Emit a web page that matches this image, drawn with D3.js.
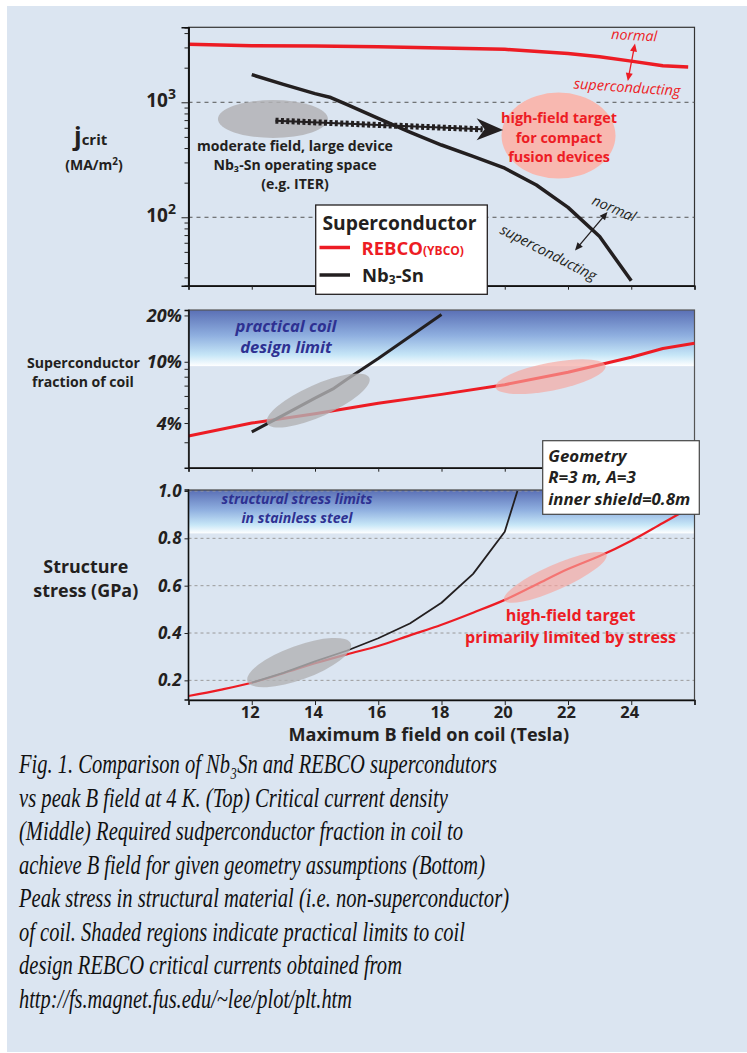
<!DOCTYPE html>
<html>
<head>
<meta charset="utf-8">
<script src="https://cdn.jsdelivr.net/npm/d3@7"></script>
<style>
  body { margin: 0; background: #fff; }
  svg text { font-family: "Open Sans", sans-serif; }
  svg text.cap { font-family: "Liberation Serif", "Times New Roman", serif; }
</style>
</head>
<body>
<svg id="chart" width="747" height="1053"></svg>
<script>
// ---- data ----
// top: critical current density (MA/m2) vs B (T)
var jcRebcoB = [10, 12, 14, 16, 18, 20, 22, 23, 24, 25, 25.8];
var jcRebco  = [3190, 3110, 3080, 3040, 2970, 2890, 2660, 2490, 2280, 2080, 2030];
var jcNbB    = [12, 13, 14, 14.5, 15, 16, 17, 18, 19, 20, 21, 22, 23, 24];
var jcNb     = [1740, 1430, 1190, 1100, 960, 725, 551, 425, 339, 267, 191, 122, 68, 28];

// middle: superconductor fraction of coil (%)
var fracRebcoB = [10, 12, 14, 16, 18, 20, 22, 24, 25, 26];
var fracRebco  = [3.29, 4.0, 4.6, 5.38, 6.14, 7.1, 8.55, 10.7, 12.2, 13.2];
var fracNbB    = [12, 13, 14, 14.6, 15, 16, 17, 18];
var fracNb     = [3.5, 4.5, 5.8, 6.72, 7.67, 10.5, 14.6, 20.3];

// bottom: structure stress (GPa)
var stressRebcoB = [10, 11, 12, 13, 14, 15, 16, 17, 18, 19, 20, 21, 22, 23, 24, 25, 26];
var stressRebco  = [0.134, 0.16, 0.19, 0.23, 0.272, 0.31, 0.345, 0.39, 0.435, 0.486, 0.54, 0.605, 0.67, 0.725, 0.79, 0.865, 0.94];
var stressNbB    = [12, 13, 14, 15, 16, 17, 18, 19, 20, 20.4];
var stressNb     = [0.19, 0.232, 0.28, 0.325, 0.378, 0.44, 0.528, 0.65, 0.828, 1.0];

var xTicks = [10, 12, 14, 16, 18, 20, 22, 24, 26];
var xLabels = [12, 14, 16, 18, 20, 22, 24];
var jcMinor = [30, 40, 50, 60, 70, 80, 90, 200, 300, 400, 500, 600, 700, 800, 900, 2000, 3000, 4000];
var jcMajor = [100, 1000];
var fracTicks = [3, 4, 5, 6, 7, 8, 9, 10, 20];
var fracLabels = [4, 10, 20];
var stressTicks = [0.2, 0.4, 0.6, 0.8, 1.0];

var captionLines = [
  "Fig. 1. Comparison of Nb\u2083Sn and REBCO supercondutors",
  "vs peak B field at 4 K. (Top) Critical current density",
  "(Middle) Required sudperconductor fraction in coil to",
  "achieve B field for given geometry assumptions (Bottom)",
  "Peak stress in structural material (i.e. non-superconductor)",
  "of coil. Shaded regions indicate practical limits to coil",
  "design REBCO critical currents obtained from",
  "http://fs.magnet.fus.edu/~lee/plot/plt.htm"
];
var captionWidths = [478, 429, 444, 466, 490, 446, 383, 333];

var RED = '#ed1c24', INK = '#231f20', NAVY = '#2e3192';

function zip(a, b) { return a.map(function(d, i) { return [d, b[i]]; }); }

var svg = d3.select('#chart');
svg.append('rect').attr('x', 7).attr('y', 6).attr('width', 740).attr('height', 1046).attr('fill', '#dbe5f1');

var defs = svg.append('defs');
var grad = defs.append('linearGradient').attr('id', 'band').attr('x1', 0).attr('y1', 0).attr('x2', 0).attr('y2', 1);
grad.append('stop').attr('offset', '0%').attr('stop-color', '#5a6fb5');
grad.append('stop').attr('offset', '45%').attr('stop-color', '#8eaedf');
grad.append('stop').attr('offset', '80%').attr('stop-color', '#c6e6f7');
grad.append('stop').attr('offset', '100%').attr('stop-color', '#ffffff');

var x = d3.scaleLinear().domain([10, 26]).range([188.5, 694.5]);

// text helper; if w given, font size is scaled so the line is w px wide
function label(g, px, py, txt, o) {
  var t = g.append('text').attr('x', px).attr('y', py)
    .attr('text-anchor', o.anchor || 'start')
    .attr('font-size', o.size)
    .attr('font-weight', o.weight || 700)
    .attr('font-style', o.italic ? 'italic' : 'normal')
    .attr('fill', o.fill || INK)
    .text(txt);
  if (o.w) {
    var l = t.node().getComputedTextLength();
    t.attr('font-size', o.size * o.w / l);
  }
  return t;
}
// several lines at one size, fitted on line `fit`
function lines(g, px, ys, txts, o, fit) {
  fit = fit || 0;
  var t0 = label(g, px, ys[fit], txts[fit], o);
  var fs = +t0.attr('font-size');
  txts.forEach(function(s, i) {
    if (i !== fit) label(g, px, ys[i], s, Object.assign({}, o, {w: null, size: fs}));
  });
}

function styleAxis(g) {
  g.select('.domain').attr('stroke', '#111').attr('stroke-width', 1.5);
  g.selectAll('.tick line').attr('stroke', '#222').attr('stroke-width', 1);
}

// ================= TOP PANEL =================
var yTop = d3.scaleLog().domain([25.4, 4490]).range([285.7, 27.3]);
var gTop = svg.append('g');

gTop.append('rect').attr('x', x(10)).attr('y', yTop(4490)).attr('width', x(26) - x(10))
  .attr('height', yTop(25.4) - yTop(4490)).attr('fill', 'none').attr('stroke', '#333').attr('stroke-width', 1.2);

gTop.selectAll('line.grid').data(jcMajor).enter().append('line')
  .attr('x1', x(10)).attr('x2', x(26)).attr('y1', yTop).attr('y2', yTop)
  .attr('stroke', '#555').attr('stroke-width', 1).attr('stroke-dasharray', '4,4');

// annotation shapes
gTop.append('ellipse').attr('cx', x(12.67)).attr('cy', yTop(716)).attr('rx', 55).attr('ry', 19)
  .attr('fill', '#b3b3b6').attr('opacity', 0.85);
gTop.append('ellipse').attr('cx', x(21.7)).attr('cy', yTop(513)).attr('rx', 57).attr('ry', 43)
  .attr('fill', '#f8b8b0');

var lineTop = d3.line().x(function(d) { return x(d[0]); }).y(function(d) { return yTop(d[1]); });
gTop.append('path').datum(zip(jcRebcoB, jcRebco)).attr('d', lineTop)
  .attr('fill', 'none').attr('stroke', RED).attr('stroke-width', 3.5).attr('stroke-linejoin', 'round');
gTop.append('path').datum(zip(jcNbB, jcNb)).attr('d', lineTop)
  .attr('fill', 'none').attr('stroke', INK).attr('stroke-width', 3.5).attr('stroke-linejoin', 'round');

// dotted arrow from ITER space to high-field target
var ax0 = x(12.75), ay0 = yTop(692), ax1 = x(19.3), ay1 = yTop(582), axt = x(19.95), ayt = yTop(574);
gTop.append('line').attr('x1', ax0).attr('y1', ay0).attr('x2', ax1).attr('y2', ay1)
  .attr('stroke', INK).attr('stroke-width', 2);
gTop.append('line').attr('x1', ax0).attr('y1', ay0).attr('x2', ax1).attr('y2', ay1)
  .attr('stroke', INK).attr('stroke-width', 6).attr('stroke-dasharray', '3,2.4');
gTop.append('path').attr('d', 'M' + axt + ',' + ayt + 'L' + (ax1 - 6) + ',' + (ay1 - 11) + 'L' + (ax1 + 2) + ',' + ay1 + 'L' + (ax1 - 6) + ',' + (ay1 + 11) + 'Z')
  .attr('fill', INK);

// axes
var gl = gTop.append('g').attr('transform', 'translate(' + x(10) + ',0)')
  .call(d3.axisLeft(yTop).tickValues(jcMinor).tickSize(4).tickFormat(''));
styleAxis(gl);
var gl2 = gTop.append('g').attr('transform', 'translate(' + x(10) + ',0)')
  .call(d3.axisLeft(yTop).tickValues(jcMajor).tickSize(7).tickFormat(''));
styleAxis(gl2);
var gb = gTop.append('g').attr('transform', 'translate(0,' + yTop(25.4) + ')')
  .call(d3.axisBottom(x).tickValues(xTicks).tickSize(4).tickFormat(''));
styleAxis(gb);

// y tick labels 10^2, 10^3
jcMajor.forEach(function(v) {
  var t = gTop.append('text').attr('x', 176).attr('y', yTop(v) + 4.5).attr('text-anchor', 'end')
    .attr('font-size', 19).attr('font-weight', 700).attr('fill', INK);
  t.append('tspan').text('10');
  t.append('tspan').attr('dy', -8).attr('font-size', 14).text(String(Math.round(Math.log10(v))));
});

// y title
var jt = gTop.append('text').attr('x', 74).attr('y', 145).attr('font-weight', 700).attr('fill', INK);
jt.append('tspan').attr('font-size', 25).text('j');
jt.append('tspan').attr('font-size', 15).text('crit');
var mt = gTop.append('text').attr('x', 94).attr('y', 170).attr('text-anchor', 'middle')
  .attr('font-size', 14).attr('font-weight', 700).attr('fill', INK);
mt.append('tspan').text('(MA/m');
mt.append('tspan').attr('dy', -5).attr('font-size', 10).text('2');
mt.append('tspan').attr('dy', 5).text(')');

// annotations
lines(gTop, 295, [151, 170, 188.5], ['moderate field, large device', 'Nb\u2083-Sn operating space', '(e.g. ITER)'],
  {size: 14, w: 196, anchor: 'middle', fill: INK});
lines(gTop, 559, [123.3, 142.7, 161.7], ['high-field target', 'for compact', 'fusion devices'],
  {size: 15, w: 116, anchor: 'middle', fill: RED});

label(gTop, 0, 0, 'normal', {size: 15, w: 46, weight: 400, italic: true, fill: RED})
  .attr('transform', 'translate(611,39) rotate(3)');
label(gTop, 0, 0, 'superconducting', {size: 15, w: 107, weight: 400, italic: true, fill: RED})
  .attr('transform', 'translate(573.5,88.5) rotate(4)');
label(gTop, 0, 0, 'normal', {size: 14, w: 46, weight: 400, italic: true, fill: INK})
  .attr('transform', 'translate(591,204) rotate(23)');
label(gTop, 0, 0, 'superconducting', {size: 14, w: 106, weight: 400, italic: true, fill: INK})
  .attr('transform', 'translate(499,233) rotate(27)');

function dblArrow(g, x1, y1, x2, y2, col) {
  var dx = x2 - x1, dy = y2 - y1, L = Math.sqrt(dx * dx + dy * dy), ux = dx / L, uy = dy / L;
  var hl = 8, hw = 3.5;
  g.append('line').attr('x1', x1 + ux * hl * 0.8).attr('y1', y1 + uy * hl * 0.8)
    .attr('x2', x2 - ux * hl * 0.8).attr('y2', y2 - uy * hl * 0.8).attr('stroke', col).attr('stroke-width', 1.3);
  [[x1, y1, 1], [x2, y2, -1]].forEach(function(p) {
    var bx = p[0] + ux * hl * p[2], by = p[1] + uy * hl * p[2];
    g.append('path').attr('d', 'M' + p[0] + ',' + p[1] + 'L' + (bx - uy * hw) + ',' + (by + ux * hw) + 'L' + (bx + uy * hw) + ',' + (by - ux * hw) + 'Z')
      .attr('fill', col);
  });
}
dblArrow(gTop, 635, 43.5, 627.8, 81, RED);
dblArrow(gTop, 607.5, 212, 575, 250.5, INK);

// legend
var lg = svg.append('g');
lg.append('rect').attr('x', 315.7).attr('y', 205).attr('width', 171.6).attr('height', 89.3)
  .attr('fill', '#fff').attr('stroke', INK).attr('stroke-width', 1.3);
label(lg, 322.5, 230, 'Superconductor', {size: 19, w: 154});
lg.append('line').attr('x1', 319.5).attr('x2', 350).attr('y1', 247.5).attr('y2', 247.5).attr('stroke', RED).attr('stroke-width', 3.5);
lg.append('line').attr('x1', 319.5).attr('x2', 350).attr('y1', 275).attr('y2', 275).attr('stroke', INK).attr('stroke-width', 3.5);
var rb = lg.append('text').attr('x', 361.5).attr('y', 254.5).attr('font-weight', 700).attr('fill', RED);
rb.append('tspan').attr('font-size', 18.5).text('REBCO');
rb.append('tspan').attr('font-size', 12).text('(YBCO)');
var nb = lg.append('text').attr('x', 362).attr('y', 281.5).attr('font-weight', 700).attr('fill', INK).attr('font-size', 18.5);
nb.append('tspan').text('Nb');
nb.append('tspan').attr('font-size', 12).attr('dy', 2).text('3');
nb.append('tspan').attr('dy', -2).text('-Sn');

// ================= MIDDLE PANEL =================
var yMid = d3.scaleLog().domain([2.05, 21.7]).range([467.7, 310]);
var gMid = svg.append('g');
gMid.append('rect').attr('x', x(10)).attr('y', yMid(21.7)).attr('width', x(26) - x(10))
  .attr('height', yMid(9.37) - yMid(21.7)).attr('fill', 'url(#band)');
gMid.append('rect').attr('x', x(10)).attr('y', yMid(21.7)).attr('width', x(26) - x(10))
  .attr('height', yMid(2.05) - yMid(21.7)).attr('fill', 'none').attr('stroke', '#555').attr('stroke-width', 1.2);

lines(gMid, 286, [331.7, 353.3], ['practical coil', 'design limit'], {size: 17, w: 101, anchor: 'middle', italic: true, fill: NAVY});

var lineMid = d3.line().x(function(d) { return x(d[0]); }).y(function(d) { return yMid(d[1]); });
gMid.append('path').datum(zip(fracRebcoB, fracRebco)).attr('d', lineMid)
  .attr('fill', 'none').attr('stroke', RED).attr('stroke-width', 3).attr('stroke-linejoin', 'round');
gMid.append('path').datum(zip(fracNbB, fracNb)).attr('d', lineMid)
  .attr('fill', 'none').attr('stroke', INK).attr('stroke-width', 3).attr('stroke-linejoin', 'round');

gMid.append('ellipse').attr('rx', 56).attr('ry', 16).attr('fill', '#b1b1b4').attr('opacity', 0.8)
  .attr('transform', 'translate(' + x(14.1) + ',' + yMid(5.6) + ') rotate(-24)');
gMid.append('ellipse').attr('rx', 56).attr('ry', 14).attr('fill', '#f7a59c').attr('opacity', 0.65)
  .attr('transform', 'translate(' + x(21.45) + ',' + yMid(8.0) + ') rotate(-11)');

var ml = gMid.append('g').attr('transform', 'translate(' + x(10) + ',0)')
  .call(d3.axisLeft(yMid).tickValues(fracTicks).tickSize(4).tickFormat(''));
styleAxis(ml);
var mb = gMid.append('g').attr('transform', 'translate(0,' + yMid(2.05) + ')')
  .call(d3.axisBottom(x).tickValues(xTicks).tickSize(4).tickFormat(''));
styleAxis(mb);
fracLabels.forEach(function(v) {
  label(gMid, 182, yMid(v) + 6.5, v + '%', {size: 18, italic: true, anchor: 'end'});
});
label(gMid, 27, 368.3, 'Superconductor', {size: 14, w: 113});
label(gMid, 32, 386.7, 'fraction of coil', {size: 14, w: 102});

// ================= BOTTOM PANEL =================
var yBot = d3.scaleLinear().domain([0.117, 1.0]).range([700, 491]);
var gBot = svg.append('g');
gBot.append('rect').attr('x', x(10)).attr('y', 490).attr('width', x(26) - x(10))
  .attr('height', yBot(0.821) - 490).attr('fill', 'url(#band)');
gBot.selectAll('line.grid').data(stressTicks).enter().append('line')
  .attr('x1', x(10)).attr('x2', x(26)).attr('y1', yBot).attr('y2', yBot)
  .attr('stroke', '#9a9a9a').attr('stroke-width', 1).attr('stroke-dasharray', '3,3');
gBot.append('rect').attr('x', x(10)).attr('y', 490).attr('width', x(26) - x(10))
  .attr('height', 210).attr('fill', 'none').attr('stroke', '#444').attr('stroke-width', 1.2);

lines(gBot, 297, [504.3, 523.3], ['structural stress limits', 'in stainless steel'], {size: 14, w: 151, anchor: 'middle', italic: true, fill: NAVY});

var lineBot = d3.line().x(function(d) { return x(d[0]); }).y(function(d) { return yBot(d[1]); });
gBot.append('path').datum(zip(stressRebcoB, stressRebco)).attr('d', lineBot.curve(d3.curveMonotoneX))
  .attr('fill', 'none').attr('stroke', RED).attr('stroke-width', 2.2);
gBot.append('path').datum(zip(stressNbB, stressNb)).attr('d', lineBot.curve(d3.curveLinear))
  .attr('fill', 'none').attr('stroke', INK).attr('stroke-width', 1.8).attr('stroke-linejoin', 'round');

gBot.append('ellipse').attr('rx', 55).attr('ry', 17).attr('fill', '#b1b1b4').attr('opacity', 0.8)
  .attr('transform', 'translate(' + x(13.5) + ',' + yBot(0.275) + ') rotate(-20)');
gBot.append('ellipse').attr('rx', 56).attr('ry', 12.5).attr('fill', '#f7a59c').attr('opacity', 0.65)
  .attr('transform', 'translate(' + x(21.6) + ',' + yBot(0.635) + ') rotate(-24)');

lines(gBot, 570.5, [621, 643.3], ['high-field target', 'primarily limited by stress'], {size: 16, w: 211, anchor: 'middle', fill: RED}, 1);

var bl = gBot.append('g').attr('transform', 'translate(' + x(10) + ',0)')
  .call(d3.axisLeft(yBot).tickValues(stressTicks).tickSize(4).tickFormat(''));
styleAxis(bl);
bl.select('.domain').attr('d', 'M-4,490H0V700H-4');
var bb = gBot.append('g').attr('transform', 'translate(0,700)')
  .call(d3.axisBottom(x).tickValues(xTicks).tickSize(5).tickFormat(''));
styleAxis(bb);

stressTicks.forEach(function(v) {
  label(gBot, 181.5, yBot(v) + 6, v.toFixed(1), {size: 17, italic: true, anchor: 'end'});
});
xLabels.forEach(function(v) {
  label(gBot, x(v) - 1.5, 717.5, String(v), {size: 16.5, anchor: 'middle'});
});
label(gBot, 428.8, 741, 'Maximum B field on coil (Tesla)', {size: 18, w: 281, anchor: 'middle'});
label(gBot, 85.8, 573.3, 'Structure', {size: 17, w: 85, anchor: 'middle'});
label(gBot, 85.8, 596.7, 'stress (GPa)', {size: 17, w: 105, anchor: 'middle'});

// geometry box
var gm = svg.append('g');
gm.append('rect').attr('x', 542.7).attr('y', 440.7).attr('width', 156.6).attr('height', 73.6)
  .attr('fill', '#fff').attr('stroke', '#444').attr('stroke-width', 1.2);
lines(gm, 548.3, [461.7, 483.3, 505], ['Geometry', 'R=3 m, A=3', 'inner shield=0.8m'], {size: 16, w: 142, italic: true}, 2);

// ================= CAPTION =================
var cap = svg.append('g');
captionLines.forEach(function(s, i) {
  cap.append('text').attr('class', 'cap').attr('x', 19).attr('y', 773.3 + i * 33.5)
    .attr('font-style', 'italic').attr('font-size', 28).attr('fill', '#111')
    .attr('textLength', captionWidths[i]).attr('lengthAdjust', 'spacingAndGlyphs')
    .text(s);
});
</script>
</body>
</html>
